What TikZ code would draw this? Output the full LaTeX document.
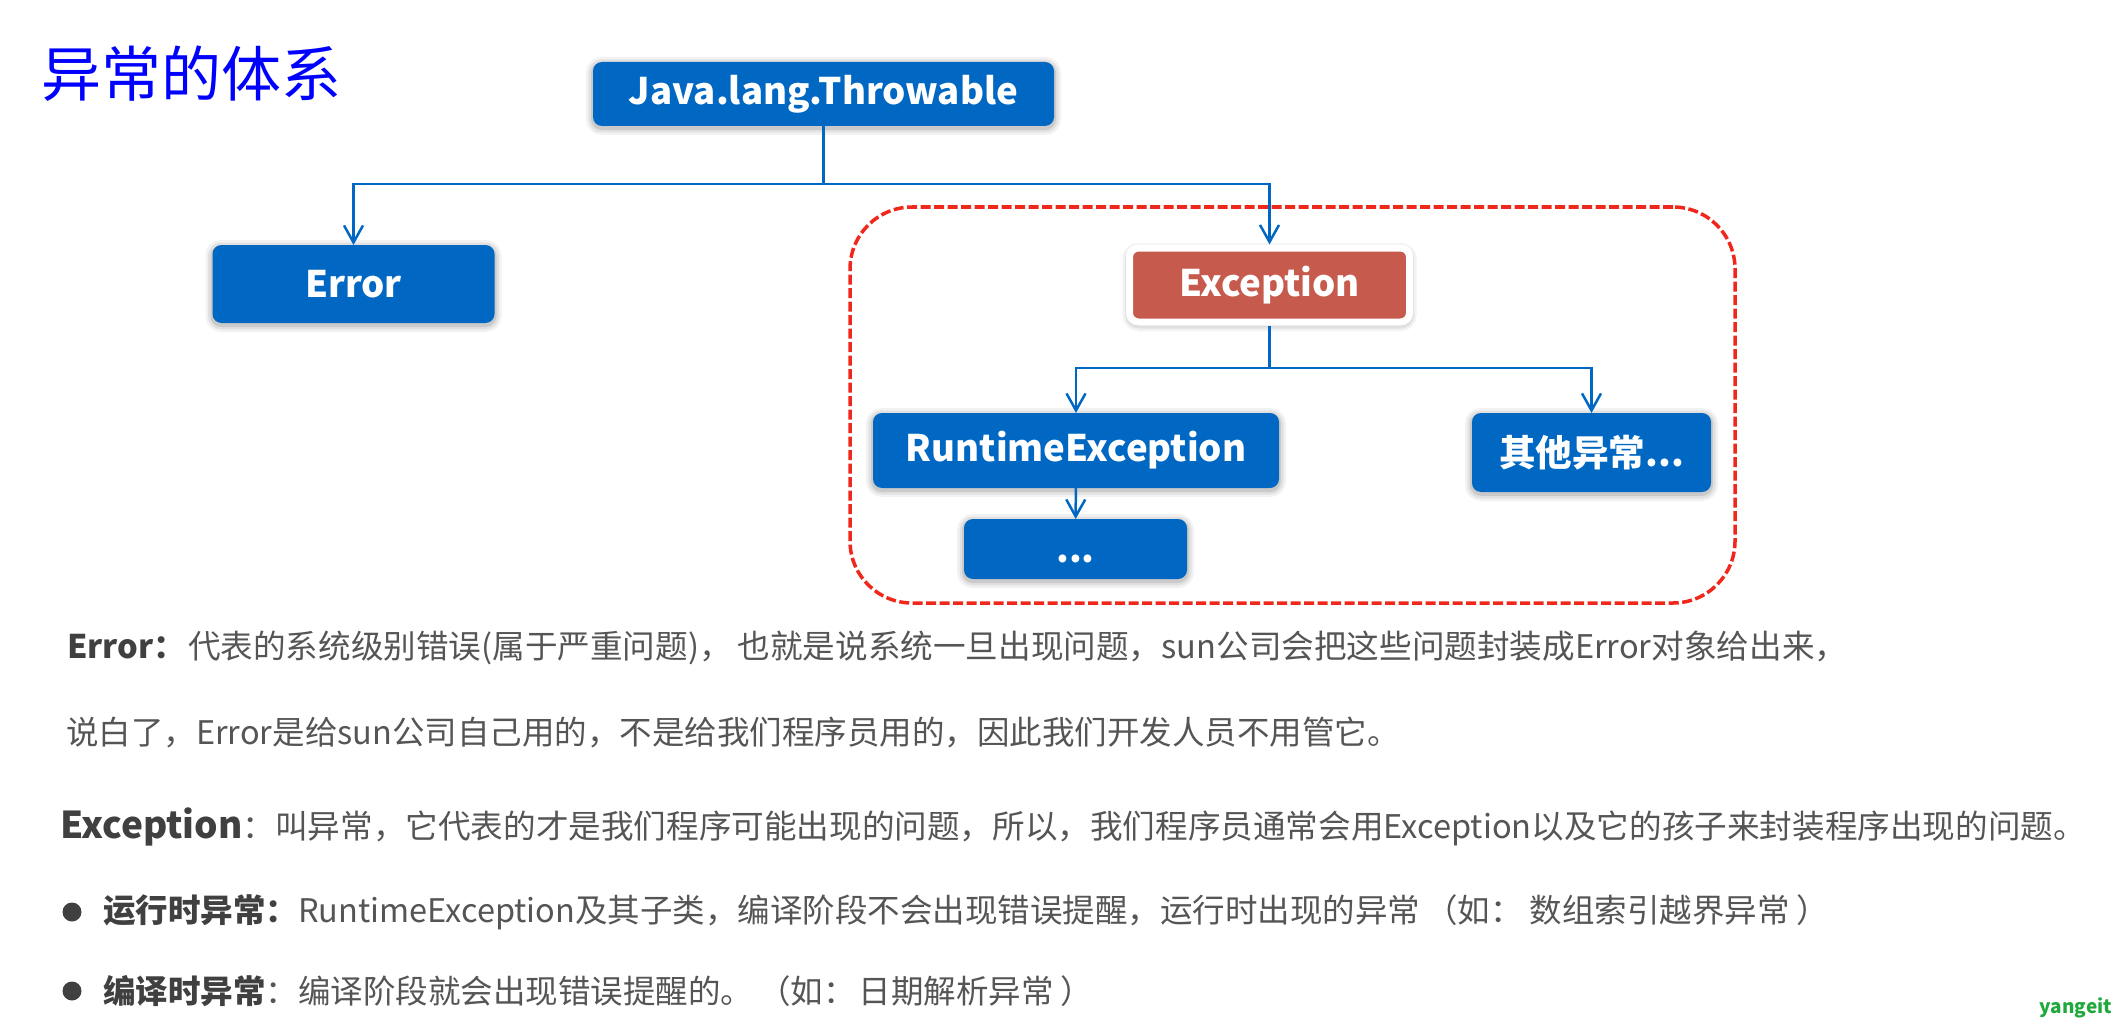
\documentclass[tikz,border=0pt]{standalone}
\usepackage{fontspec}
\setmainfont{Noto Sans CJK SC}
\usetikzlibrary{arrows.meta}
\definecolor{boxblue}{HTML}{0068C3}
\definecolor{boxred}{HTML}{C55A4D}
\definecolor{areared}{HTML}{F0281C}
\definecolor{bodygray}{HTML}{555555}
\definecolor{headgray}{HTML}{404040}
\definecolor{markgreen}{HTML}{1FA83C}
\tikzset{
    softshadow/.style={
        preaction={draw=black, opacity=.05, line width=14pt, transform canvas={yshift=-2pt}},
        preaction={draw=black, opacity=.07, line width=9pt, transform canvas={yshift=-2pt}},
        preaction={draw=black, opacity=.10, line width=4pt, transform canvas={yshift=-2pt}}},
    elbow/.style={to path={-| (\tikztotarget)}},
    sizedbox/.style n args={2}{minimum width=#1pt, minimum height=#2pt},
    textline/.style={anchor=west, inner sep=0pt, text=bodygray, font=\fontsize{32.5}{38}\selectfont},
    bulletdot/.style={circle, fill=headgray, inner sep=0pt, minimum size=19pt}
}
\newcommand{\headfont}[1]{{\bfseries\color{headgray}#1}}
\begin{document}
\begin{tikzpicture}[x=1pt, y=-1pt]
        \useasboundingbox (0,0) rectangle (2119,1027);

        \node (title) [inner sep=0pt, text=blue, font=\fontsize{60}{66}\selectfont] at (191,74) {异常的体系};

        \node (area) [draw=areared, line width=3.5pt, dash pattern=on 10pt off 3.5pt, rounded corners=62pt, sizedbox={885}{396}] at (1292.5,405) {};

        \begin{scope}[every node/.style={softshadow, fill=boxblue, rounded corners=9pt, outer sep=0pt, text=white, font=\bfseries\fontsize{36.6}{44}\selectfont}]
            \node (throwable) [sizedbox={461}{64}] at (823.5,94) {Java.lang.Throwable};
            \node (error) [sizedbox={282}{78}] at (353.5,284) {Error};
            \node (runtime) [sizedbox={406}{75}] at (1076,450.5) {RuntimeException};
            \node (other) [sizedbox={239}{79}] at (1591.5,452.5) {其他异常...};
            \node (more) [sizedbox={223}{60}] at (1075.5,549) {\vphantom{E}...};
        \end{scope}

        \node (exception) [softshadow, draw=white, line width=7pt, fill=boxred, rounded corners=9pt, text=white, font=\bfseries\fontsize{36.6}{44}\selectfont, sizedbox={280}{74}] at (1269.5,285) {Exception};

        \coordinate (split1) at (823.5,184);
        \coordinate (split2) at (1269.5,368);

        \begin{scope}[every edge/.style={draw=boxblue, line width=2.5pt}]
            \path [-] (throwable) edge (split1);
            \path [-] (exception) edge (split2);
            \path [-{Straight Barb[length=17pt,width=19pt]}] (split1) edge[elbow] (error.north);
            \path [-{Straight Barb[length=17pt,width=19pt]}] (split1) edge[elbow] (exception.north);
            \path [-{Straight Barb[length=17pt,width=19pt]}] (split2) edge[elbow] (runtime.north);
            \path [-{Straight Barb[length=17pt,width=19pt]}] (split2) edge[elbow] (other.north);
            \path [-{Straight Barb[length=17pt,width=19pt]}] (runtime) edge (more);
        \end{scope}

        \node (errorline) [textline, font=\fontsize{32.6}{38}\selectfont] at (67,648) {\headfont{Error：}\hspace{2pt}代表的系统级别错误(属于严重问题)，\hspace{6pt}也就是说系统一旦出现问题，sun公司会把这些问题封装成Error对象给出来，};
        \node (errorline2) [textline] at (66,732) {说白了，Error是给sun公司自己用的，不是给我们程序员用的，因此我们开发人员不用管它。};
        \node (exceptionline) [textline, font=\fontsize{32.6}{38}\selectfont] at (60,827) {{\fontsize{37}{44}\selectfont\headfont{Exception}}：叫异常，它代表的才是我们程序可能出现的问题，所以，我们程序员通常会用Exception以及它的孩子来封装程序出现的问题。};

        \node (dot1) [bulletdot] at (72,912) {};
        \node (runtimeline) [textline] at (103,912) {\headfont{运行时异常：}RuntimeException及其子类，编译阶段不会出现错误提醒，运行时出现的异常\hspace{5pt}（如：\hspace{7pt}数组索引越界异常\hspace{7pt}）};
        \node (dot2) [bulletdot] at (72,991) {};
        \node (checkedline) [textline] at (103,991) {\headfont{编译时异常}：编译阶段就会出现错误提醒的。\hspace{5pt}（如：\hspace{3pt}日期解析异常\hspace{7pt}）};

        \node (mark) [inner sep=0pt, text=markgreen, font=\bfseries\fontsize{19}{24}\selectfont] at (2076,1008) {yangeit};
\end{tikzpicture}
\end{document}
